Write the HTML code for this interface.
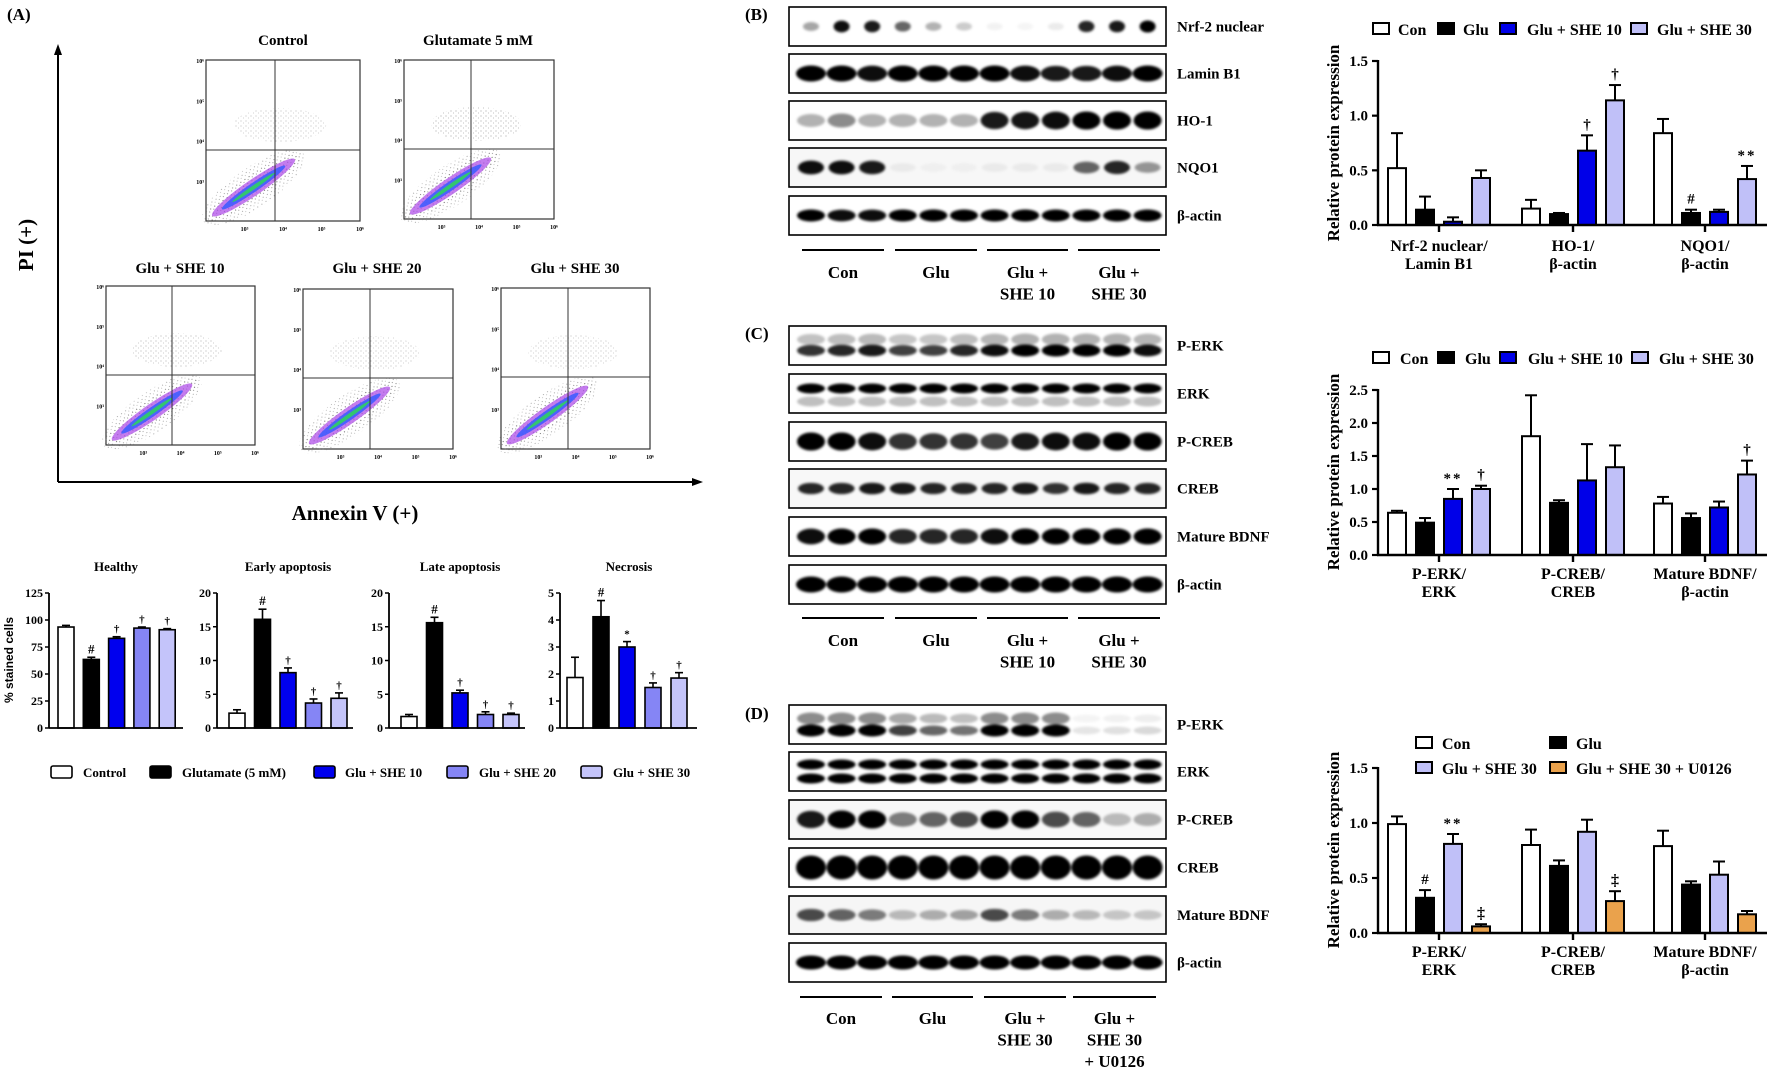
<!DOCTYPE html>
<html><head><meta charset="utf-8"><title>Figure</title>
<style>
html,body{margin:0;padding:0;background:#fff;}
svg{display:block;}
text{font-family:"Liberation Serif",serif;font-weight:bold;fill:#000;}
.sans{font-family:"Liberation Sans",sans-serif;}
</style></head>
<body>
<svg id="fig" xmlns="http://www.w3.org/2000/svg" width="1772" height="1072" viewBox="0 0 1772 1072">
<defs>
<filter id="blur" x="-30%" y="-80%" width="160%" height="260%"><feGaussianBlur stdDeviation="1.3"/></filter>
<pattern id="dots" width="5" height="5" patternUnits="userSpaceOnUse"><circle cx="1" cy="1" r="0.55" fill="#666"/><circle cx="3.5" cy="3" r="0.45" fill="#888"/></pattern>
</defs>
<rect x="0" y="0" width="1772" height="1072" fill="#fff"/>
<text x="7" y="20" font-size="17">(A)</text>
<text x="745" y="20" font-size="17">(B)</text>
<text x="745" y="339" font-size="17">(C)</text>
<text x="745" y="719" font-size="17">(D)</text>
<line x1="58" y1="482" x2="58" y2="52" stroke="#000" stroke-width="2"/>
<polygon points="58,44 54,55 62,55" fill="#000"/>
<line x1="58" y1="482" x2="695" y2="482" stroke="#000" stroke-width="2"/>
<polygon points="703,482 692,478 692,486" fill="#000"/>
<text x="0" y="0" font-size="21" text-anchor="middle" transform="translate(33,245) rotate(-90)">PI (+)</text>
<text x="355" y="520" font-size="21" text-anchor="middle">Annexin V (+)</text>
</svg>
<script>
// ===== Panel A bar data =====
const aGroups = ['Control','Glutamate (5 mM)','Glu + SHE 10','Glu + SHE 20','Glu + SHE 30'];
const healthyVals = [93.5, 63.5, 83, 92.5, 91];
const healthyErr = [1.5, 2, 1.5, 1, 1];
const healthyMarks = ['', '#', '†', '†', '†'];
const healthyTicks = [0, 25, 50, 75, 100, 125];
const earlyVals = [2.2, 16.1, 8.2, 3.7, 4.4];
const earlyErr = [0.5, 1.5, 0.7, 0.6, 0.8];
const earlyMarks = ['', '#', '†', '†', '†'];
const earlyTicks = [0, 5, 10, 15, 20];
const lateVals = [1.7, 15.6, 5.2, 2.0, 2.0];
const lateErr = [0.3, 0.8, 0.4, 0.4, 0.2];
const lateMarks = ['', '#', '†', '†', '†'];
const lateTicks = [0, 5, 10, 15, 20];
const necVals = [1.87, 4.12, 3.0, 1.5, 1.85];
const necErr = [0.75, 0.6, 0.2, 0.17, 0.2];
const necMarks = ['', '#', '*', '†', '†'];
const necTicks = [0, 1, 2, 3, 4, 5];

// ===== Panel B data =====
const bCats = ['Nrf-2 nuclear/|Lamin B1', 'HO-1/|β-actin', 'NQO1/|β-actin'];
const bSeriesNames = ['Con', 'Glu', 'Glu + SHE 10', 'Glu + SHE 30'];
const bCon = [0.52, 0.15, 0.84];
const bGlu = [0.14, 0.10, 0.11];
const bShe10 = [0.03, 0.68, 0.12];
const bShe30 = [0.43, 1.14, 0.42];
const bConErr = [0.32, 0.08, 0.13];
const bGluErr = [0.12, 0.01, 0.03];
const bShe10Err = [0.04, 0.14, 0.02];
const bShe30Err = [0.07, 0.14, 0.12];
const bMarks = [['','','',''], ['','','†','†'], ['','#','','**']];
const bTicks = [0, 0.5, 1.0, 1.5];

// ===== Panel C data =====
const cCats = ['P-ERK/|ERK', 'P-CREB/|CREB', 'Mature BDNF/|β-actin'];
const cCon = [0.64, 1.80, 0.78];
const cGlu = [0.49, 0.79, 0.56];
const cShe10 = [0.85, 1.13, 0.72];
const cShe30 = [1.00, 1.33, 1.22];
const cConErr = [0.03, 0.62, 0.10];
const cGluErr = [0.07, 0.04, 0.07];
const cShe10Err = [0.15, 0.55, 0.09];
const cShe30Err = [0.05, 0.33, 0.21];
const cMarks = [['','','**','†'], ['','','',''], ['','','','†']];
const cTicks = [0, 0.5, 1.0, 1.5, 2.0, 2.5];

// ===== Panel D data =====
const dCats = ['P-ERK/|ERK', 'P-CREB/|CREB', 'Mature BDNF/|β-actin'];
const dSeriesNames = ['Con', 'Glu', 'Glu + SHE 30', 'Glu + SHE 30 + U0126'];
const dCon = [0.99, 0.80, 0.79];
const dGlu = [0.32, 0.61, 0.44];
const dShe30 = [0.81, 0.92, 0.53];
const dU0126 = [0.06, 0.29, 0.17];
const dConErr = [0.07, 0.14, 0.14];
const dGluErr = [0.07, 0.05, 0.03];
const dShe30Err = [0.09, 0.11, 0.12];
const dU0126Err = [0.02, 0.09, 0.03];
const dMarks = [['','#','**','‡'], ['','','','‡'], ['','','','']];
const dTicks = [0, 0.5, 1.0, 1.5];

// ===== Blot band intensities (12 lanes) =====
const blotB = {
  nrf: [0.35,0.95,0.9,0.6,0.3,0.2,0.05,0.04,0.08,0.85,0.9,1],
  lamin: [1,1,0.95,1,1,1,1,0.95,0.9,0.9,0.95,1],
  ho1: [0.3,0.45,0.3,0.3,0.3,0.3,0.9,0.92,0.95,1,1,1],
  nqo1: [0.95,0.95,0.9,0.05,0.03,0.03,0.05,0.05,0.05,0.6,0.85,0.4],
  actin: [1,0.95,0.95,1,1,1,1,1,1,1,1,1]
};
const blotC = {
  perk: [0.8,0.85,0.9,0.75,0.75,0.85,0.95,1,1,1,1,0.95],
  erk: [1,1,1,1,1,1,1,1,1,1,1,1],
  pcreb: [1,1,0.95,0.8,0.8,0.8,0.75,0.9,0.95,0.95,1,1],
  creb: [0.85,0.85,0.9,0.9,0.85,0.85,0.85,0.9,0.8,0.9,0.85,0.85],
  bdnf: [0.95,1,1,0.85,0.85,0.85,0.95,1,1,1,1,1],
  actin: [1,1,1,1,1,1,1,1,1,1,1,1]
};
const blotD = {
  perk: [1,1,1,0.75,0.6,0.55,1,1,1,0.1,0.12,0.15],
  erk: [1,1,1,1,1,1,1,1,1,1,1,1],
  pcreb: [0.9,1,1,0.5,0.6,0.7,1,1,0.7,0.6,0.25,0.3],
  creb: [1,1,1,1,1,1,1,1,1,1,1,1],
  bdnf: [0.7,0.6,0.5,0.25,0.3,0.35,0.7,0.5,0.3,0.25,0.2,0.2],
  actin: [1,1,1,1,1,1,1,1,1,1,1,1]
};

const svg = document.getElementById('fig');
const NS = 'http://www.w3.org/2000/svg';
function mk(tag, attrs, parent) {
  const e = document.createElementNS(NS, tag);
  for (const k in attrs) e.setAttribute(k, attrs[k]);
  (parent || svg).appendChild(e);
  return e;
}
function txt(str, attrs, parent) {
  const e = mk('text', attrs, parent);
  e.textContent = str;
  return e;
}

// ===== Flow cytometry plots (decorative) =====
const flowBoxes = [
  {name:'control', title:'Control', x:206, y:60, w:154, h:161, v:275, hz:150, tx:283, ty:45, upper:0.5},
  {name:'glutamate', title:'Glutamate 5 mM', x:404, y:60, w:150, h:159, v:471, hz:149, tx:478, ty:45, upper:1},
  {name:'she10', title:'Glu + SHE 10', x:106, y:286, w:149, h:159, v:172, hz:375, tx:180, ty:273, upper:0.7},
  {name:'she20', title:'Glu + SHE 20', x:303, y:289, w:150, h:160, v:370, hz:378, tx:377, ty:273, upper:0.5},
  {name:'she30', title:'Glu + SHE 30', x:501, y:288, w:149, h:161, v:568, hz:377, tx:575, ty:273, upper:0.5}
];
flowBoxes.forEach(b => {
  const g = mk('g', {});
  
  
  const t = txt(b.title, {x:b.tx, y:b.ty, 'font-size':15, 'text-anchor':'middle'}, g);
  
  
  const r = mk('rect', {x:b.x, y:b.y, width:b.w, height:b.h, fill:'#fff', stroke:'#333', 'stroke-width':1.2}, g);
  
  
  const cx = b.v + 5, cy = b.hz - 25;
  const up = mk('ellipse', {cx:cx, cy:cy, rx:b.w*0.3, ry:17, fill:'url(#dots)', opacity:0.35 + 0.4*b.upper}, g);
  
  
  const x1 = b.x + 4, y1 = b.y + b.h - 4, x2 = b.v + 30, y2 = b.hz + 2;
  const mx = (x1 + x2) / 2, my = (y1 + y2) / 2;
  const len = Math.hypot(x2 - x1, y2 - y1);
  const ang = Math.atan2(y2 - y1, x2 - x1) * 180 / Math.PI;
  const layers = [[len/1.9, 20, 'url(#dots)', 0.7], [len/2, 12, 'url(#dots)', 0.9], [len/2.3, 8, '#b050e8', 0.75], [len/3, 4.5, '#3a5cff', 0.85], [len/4.5, 2, '#30d060', 0.9]];
  layers.forEach(L => {
    const e = mk('ellipse', {cx:mx - 4, cy:my + 3, rx:L[0], ry:L[1], fill:L[2], opacity:L[3], transform:'rotate(' + ang + ' ' + (mx-4) + ' ' + (my+3) + ')'}, g);
    
    
  });
  const lv = mk('line', {x1:b.v, y1:b.y, x2:b.v, y2:b.y + b.h, stroke:'#333', 'stroke-width':1}, g);
  
  
  const lh = mk('line', {x1:b.x, y1:b.hz, x2:b.x + b.w, y2:b.hz, stroke:'#333', 'stroke-width':1}, g);
  
  
  ['10³','10⁴','10⁵','10⁶'].forEach((s, i) => {
    const tx = txt(s, {x:b.x + b.w*(0.25 + i*0.25), y:b.y + b.h + 10, 'font-size':6, 'text-anchor':'middle', 'font-weight':'normal'}, g);
    
    
    const ty = txt(['10⁶','10⁵','10⁴','10³'][i], {x:b.x - 2, y:b.y + b.h*(i*0.25) + 3, 'font-size':6, 'text-anchor':'end', 'font-weight':'normal'}, g);
    
    
  });
});

// ===== Panel A small bar charts =====
const aColors = ['#ffffff', '#000000', '#0000ee', '#8585f5', '#c4c4fa'];
function smallChart(name, cfg, vals, errs, marks, ticks) {
  const g = mk('g', {});
  
  
  const maxV = ticks[ticks.length - 1];
  const Y = v => cfg.y0 - v / maxV * (cfg.y0 - cfg.yTop);
  const X = i => cfg.x0 + i * cfg.step;
  const tt = txt(cfg.title, {x:cfg.tx, y:571, 'font-size':13, 'text-anchor':'middle'}, g);
  
  
  ticks.forEach(t => {
    const tl = mk('line', {x1:cfg.axisX - 4, y1:Y(t), x2:cfg.axisX, y2:Y(t), stroke:'#000', 'stroke-width':1.5}, g);
    
    
    const lb = txt(String(t), {x:cfg.axisX - 6, y:Y(t) + 4, 'font-size':12, 'text-anchor':'end'}, g);
    
    
  });
  vals.forEach((v, i) => {
    const top = Y(v + errs[i]);
    const e = mk('line', {x1:X(i) + 8, y1:Y(v), x2:X(i) + 8, y2:top, stroke:'#000', 'stroke-width':1.6}, g);
    
    
    const c = mk('line', {x1:X(i) + 4, y1:top, x2:X(i) + 12, y2:top, stroke:'#000', 'stroke-width':1.6}, g);
    
    
    const r = mk('rect', {x:X(i), y:Y(v), width:16, height:cfg.y0 - Y(v), fill:aColors[i], stroke:'#000', 'stroke-width':1.6}, g);
    
    
    if (marks[i]) {
      const m = txt(marks[i], {x:X(i) + 8, y:top - 4, 'font-size':marks[i] === '#' ? 13 : 11, 'text-anchor':'middle', 'font-weight':'normal'}, g);
      
      
    }
  });
  const ay = mk('line', {x1:cfg.axisX, y1:cfg.yTop, x2:cfg.axisX, y2:cfg.y0, stroke:'#000', 'stroke-width':1.8}, g);
  
  
  const ax = mk('line', {x1:cfg.axisX, y1:cfg.y0, x2:cfg.end, y2:cfg.y0, stroke:'#000', 'stroke-width':1.8}, g);
  
  
}
smallChart('healthy', {axisX:49, x0:58, step:25.3, yTop:593, y0:728, end:183, title:'Healthy', tx:116}, healthyVals, healthyErr, healthyMarks, healthyTicks);
smallChart('early-apoptosis', {axisX:217, x0:229, step:25.5, yTop:593, y0:728, end:353, title:'Early apoptosis', tx:288}, earlyVals, earlyErr, earlyMarks, earlyTicks);
smallChart('late-apoptosis', {axisX:389, x0:401, step:25.5, yTop:593, y0:728, end:525, title:'Late apoptosis', tx:460}, lateVals, lateErr, lateMarks, lateTicks);
smallChart('necrosis', {axisX:560, x0:567, step:26, yTop:593, y0:728, end:697, title:'Necrosis', tx:629}, necVals, necErr, necMarks, necTicks);
const yl = txt('% stained cells', {x:0, y:0, 'font-size':12, 'text-anchor':'middle', transform:'translate(13,660) rotate(-90)', class:'sans'});


const aLegX = [[51, 83], [150, 182], [314, 345], [447, 479], [581, 613]];
aGroups.forEach((n, i) => {
  const r = mk('rect', {x:aLegX[i][0], y:766, width:21, height:12, rx:2, fill:aColors[i], stroke:'#000', 'stroke-width':1.6});
  
  
  const t = txt(n, {x:aLegX[i][1], y:777, 'font-size':13});
  
  
});

// ===== Western blots =====
function blot(name, y, h, label, data, style) {
  const g = mk('g', {});
  
  
  const r = mk('rect', {x:789, y:y, width:377, height:h, fill:style.bg || '#fff', stroke:'#000', 'stroke-width':1.6}, g);
  
  
  const bg = mk('g', {filter:'url(#blur)'}, g);
  const cy = y + h / 2;
  data.forEach((v, i) => {
    const cx = 811 + i * 30.6;
    (style.bands || [[0, 1]]).forEach(bd => {
      const op = Math.min(1, v * bd[1]);
      if (op < 0.02) return;
      const e = mk('ellipse', {cx:cx, cy:cy + bd[0], rx:style.rx || 13, ry:(style.ry || 6) * (0.6 + 0.4 * v), fill:'#000', opacity:op}, bg);
      
      
    });
  });
  const t = txt(label, {x:1177, y:cy + 5, 'font-size':15}, g);
  
  
}
blot('b-nrf2', 7, 39, 'Nrf-2 nuclear', blotB.nrf, {rx:8, ry:6});
blot('b-lamin', 54, 39, 'Lamin B1', blotB.lamin, {rx:15, ry:8});
blot('b-ho1', 101, 39, 'HO-1', blotB.ho1, {rx:14, ry:9});
blot('b-nqo1', 148, 39, 'NQO1', blotB.nqo1, {rx:13, ry:7, bg:'#f7f7f7'});
blot('b-actin', 196, 39, 'β-actin', blotB.actin, {rx:14, ry:6});

blot('c-perk', 326, 39, 'P-ERK', blotC.perk, {rx:14, ry:6, bands:[[5, 1], [-6, 0.3]]});
blot('c-erk', 374, 39, 'ERK', blotC.erk, {rx:14, ry:5, bands:[[-5, 1], [8, 0.25]]});
blot('c-pcreb', 422, 39, 'P-CREB', blotC.pcreb, {rx:14, ry:9});
blot('c-creb', 469, 39, 'CREB', blotC.creb, {rx:13, ry:6, bg:'#f8f8f8'});
blot('c-bdnf', 517, 39, 'Mature BDNF', blotC.bdnf, {rx:14, ry:8});
blot('c-actin', 565, 39, 'β-actin', blotC.actin, {rx:15, ry:8});

blot('d-perk', 705, 39, 'P-ERK', blotD.perk, {rx:14, ry:6, bands:[[6, 1], [-6, 0.45]]});
blot('d-erk', 752, 39, 'ERK', blotD.erk, {rx:14, ry:5, bands:[[-7, 1], [7, 1]]});
blot('d-pcreb', 800, 39, 'P-CREB', blotD.pcreb, {rx:14, ry:9, bg:'#f8f8f8'});
blot('d-creb', 848, 39, 'CREB', blotD.creb, {rx:15, ry:12});
blot('d-bdnf', 896, 38, 'Mature BDNF', blotD.bdnf, {rx:14, ry:7, bg:'#f6f6f6'});
blot('d-actin', 943, 39, 'β-actin', blotD.actin, {rx:15, ry:7});

function groupLabels(prefix, lineY, segs, labels, firstY) {
  segs.forEach((s, i) => {
    const l = mk('line', {x1:s[0], y1:lineY, x2:s[1], y2:lineY, stroke:'#000', 'stroke-width':2});
    
    
    labels[i].forEach((ln, j) => {
      const t = txt(ln, {x:(s[0] + s[1]) / 2, y:firstY + j * 21.5, 'font-size':17, 'text-anchor':'middle'});
      
      
    });
  });
}
const segsBC = [[802, 884], [895, 977], [987, 1068], [1078, 1160]];
groupLabels('b', 250, segsBC, [['Con'], ['Glu'], ['Glu +', 'SHE 10'], ['Glu +', 'SHE 30']], 278);
groupLabels('c', 618, segsBC, [['Con'], ['Glu'], ['Glu +', 'SHE 10'], ['Glu +', 'SHE 30']], 646);
groupLabels('d', 997, [[800, 882], [892, 973], [984, 1066], [1073, 1156]], [['Con'], ['Glu'], ['Glu +', 'SHE 30'], ['Glu +', 'SHE 30', '+ U0126']], 1024);

// ===== Grouped bar charts B, C, D =====
const groupX = [1439, 1573, 1705];
const barOff = [-42, -14, 14, 42];
function groupChart(name, cfg, cats, series, errs, marks, ticks, colors) {
  const g = mk('g', {});
  
  
  const maxV = ticks[ticks.length - 1];
  const Y = v => cfg.y0 - v / maxV * (cfg.y0 - cfg.yTop);
  ticks.forEach(t => {
    const tl = mk('line', {x1:1372, y1:Y(t), x2:1378, y2:Y(t), stroke:'#000', 'stroke-width':2.2}, g);
    
    
    const lb = txt(t.toFixed(1), {x:1368, y:Y(t) + 5, 'font-size':15, 'text-anchor':'end'}, g);
    
    
  });
  cats.forEach((c, ci) => {
    series.forEach((s, si) => {
      const v = s[ci];
      const bx = groupX[ci] + barOff[si] - 9;
      const top = Y(v + errs[si][ci]);
      const e = mk('line', {x1:bx + 9, y1:Y(v), x2:bx + 9, y2:top, stroke:'#000', 'stroke-width':2}, g);
      
      
      const cp = mk('line', {x1:bx + 3, y1:top, x2:bx + 15, y2:top, stroke:'#000', 'stroke-width':2}, g);
      
      
      const r = mk('rect', {x:bx, y:Y(v), width:18, height:cfg.y0 - Y(v), fill:colors[si], stroke:'#000', 'stroke-width':2}, g);
      
      
      const mkStr = marks[ci][si];
      if (mkStr) {
        const m = txt(mkStr, {x:bx + 9, y:top - 6, 'font-size':mkStr === '‡' ? 16 : 15, 'text-anchor':'middle', 'font-weight':'normal', 'letter-spacing':mkStr === '**' ? 2 : 0}, g);
        
        
      }
    });
    const xt = mk('line', {x1:groupX[ci], y1:cfg.y0, x2:groupX[ci], y2:cfg.y0 + 7, stroke:'#000', 'stroke-width':2.4}, g);
    
    
    c.split('|').forEach((ln, j) => {
      const t = txt(ln, {x:groupX[ci], y:cfg.labY + j * 18, 'font-size':16, 'text-anchor':'middle'}, g);
      
      
    });
  });
  const ay = mk('line', {x1:1378, y1:cfg.yTop - 1, x2:1378, y2:cfg.y0, stroke:'#000', 'stroke-width':2.4}, g);
  
  
  const ax = mk('line', {x1:1377, y1:cfg.y0, x2:1767, y2:cfg.y0, stroke:'#000', 'stroke-width':2.4}, g);
  
  
  const yt = txt('Relative protein expression', {x:0, y:0, 'font-size':17, 'text-anchor':'middle', transform:'translate(1339,' + cfg.ylY + ') rotate(-90)'}, g);
  
  
}
const colBC = ['#ffffff', '#000000', '#0000e8', '#c0c0f8'];
const colD = ['#ffffff', '#000000', '#c0c0f8', '#eaa24c'];
groupChart('b', {yTop:61, y0:225, labY:251, ylY:143}, bCats, [bCon, bGlu, bShe10, bShe30], [bConErr, bGluErr, bShe10Err, bShe30Err], bMarks, bTicks, colBC);
groupChart('c', {yTop:390, y0:555, labY:579, ylY:472}, cCats, [cCon, cGlu, cShe10, cShe30], [cConErr, cGluErr, cShe10Err, cShe30Err], cMarks, cTicks, colBC);
groupChart('d', {yTop:768, y0:933, labY:957, ylY:850}, dCats, [dCon, dGlu, dShe30, dU0126], [dConErr, dGluErr, dShe30Err, dU0126Err], dMarks, dTicks, colD);

function legend(prefix, items, colors) {
  items.forEach((it, i) => {
    const r = mk('rect', {x:it[0], y:it[2] - 6, width:16, height:11, fill:colors[i], stroke:'#000', 'stroke-width':2});
    
    
    const t = txt(it[3], {x:it[1], y:it[2] + 6, 'font-size':16});
    
    
  });
}
legend('b', [[1373, 1398, 29, bSeriesNames[0]], [1438, 1463, 29, bSeriesNames[1]], [1500, 1527, 29, bSeriesNames[2]], [1631, 1657, 29, bSeriesNames[3]]], colBC);
legend('c', [[1373, 1400, 358, bSeriesNames[0]], [1438, 1465, 358, bSeriesNames[1]], [1500, 1528, 358, bSeriesNames[2]], [1632, 1659, 358, bSeriesNames[3]]], colBC);
legend('d', [[1416, 1442, 743, dSeriesNames[0]], [1550, 1576, 743, dSeriesNames[1]], [1416, 1442, 768, dSeriesNames[2]], [1550, 1576, 768, dSeriesNames[3]]], colD);
</script>
</body></html>
